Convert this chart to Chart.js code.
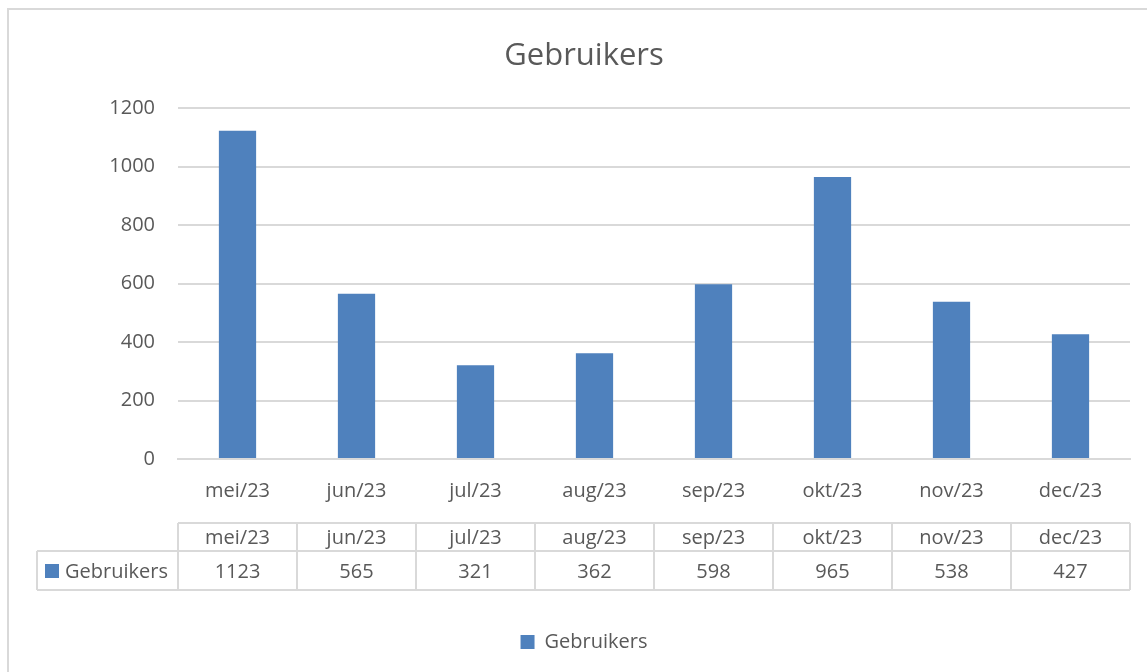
<!DOCTYPE html>
<html>
<head>
<meta charset="utf-8">
<script src="https://cdn.jsdelivr.net/npm/chart.js@4.4.1/dist/chart.umd.min.js"></script>
<style>
  html, body { margin: 0; padding: 0; background: #fff; overflow: hidden; width: 1147px; height: 672px; }
  #frame { position: absolute; left: 7px; top: 8px; width: 1170px; height: 700px; border: 2px solid #d9d9d9; box-sizing: border-box; }
  #wrap { position: absolute; left: 0; top: 0; width: 1168px; height: 672px; }
</style>
</head>
<body>
<div id="frame"></div>
<div id="wrap"><canvas id="c" width="1168" height="672"></canvas></div>
<script>
const categories = ['mei/23', 'jun/23', 'jul/23', 'aug/23', 'sep/23', 'okt/23', 'nov/23', 'dec/23'];
const users = [1123, 565, 321, 362, 598, 965, 538, 427];
const seriesName = 'Gebruikers';
const chartTitle = 'Gebruikers';
const yMin = 0, yMax = 1200, yStep = 200;

const FONT = "'Open Sans', sans-serif";
const TXT = '#595959';
const LINE = '#d9d9d9';
const BLUE = '#4f81bd';

const dataTable = {
  id: 'dataTable',
  afterDraw(chart) {
    const ctx = chart.ctx;
    const xs = chart.scales.x;
    const n = categories.length;
    const left = xs.left, right = xs.right;
    const cw = (right - left) / n;
    const top = 523, mid = 551, bot = 590, labL = 37;
    ctx.save();
    ctx.strokeStyle = LINE;
    ctx.lineWidth = 2;
    ctx.beginPath();
    ctx.moveTo(left, top); ctx.lineTo(right, top);
    ctx.moveTo(labL, mid); ctx.lineTo(right, mid);
    ctx.moveTo(labL, bot); ctx.lineTo(right, bot);
    ctx.moveTo(labL, mid); ctx.lineTo(labL, bot);
    for (let i = 0; i <= n; i++) {
      const x = left + i * cw;
      ctx.moveTo(x, top); ctx.lineTo(x, bot);
    }
    ctx.stroke();
    ctx.fillStyle = TXT;
    ctx.font = '20px ' + FONT;
    ctx.textAlign = 'center';
    ctx.textBaseline = 'middle';
    for (let i = 0; i < n; i++) {
      const cx = xs.getPixelForTick(i);
      ctx.fillText(categories[i], cx, 538);
      ctx.fillText(String(users[i]), cx, 572);
    }
    ctx.fillStyle = BLUE;
    ctx.fillRect(45, 564, 14, 14);
    ctx.fillStyle = TXT;
    ctx.textAlign = 'left';
    ctx.fillText(seriesName, 65, 572);
    ctx.restore();
  }
};

new Chart(document.getElementById('c'), {
  type: 'bar',
  data: {
    labels: categories,
    datasets: [{
      label: seriesName,
      data: users,
      backgroundColor: BLUE,
      borderWidth: 0,
      categoryPercentage: 0.313,
      barPercentage: 1
    }]
  },
  options: {
    responsive: false,
    animation: false,
    devicePixelRatio: 1,
    layout: { padding: { left: 38, right: 38, top: 0, bottom: 10 } },
    plugins: {
      title: {
        display: true,
        text: chartTitle,
        color: TXT,
        font: { family: FONT, size: 31, weight: 'normal' },
        padding: { top: 38, bottom: 33 }
      },
      legend: {
        display: true,
        position: 'bottom',
        labels: {
          color: TXT,
          font: { family: FONT, size: 20 },
          boxWidth: 14,
          boxHeight: 14,
          padding: 10
        }
      },
      tooltip: { enabled: false }
    },
    scales: {
      x: {
        grid: { display: false, drawTicks: false },
        border: { display: true, color: LINE, width: 2 },
        ticks: { color: TXT, font: { family: FONT, size: 20 }, padding: 20, maxRotation: 0 },
        afterFit(s) { s.height = 163; }
      },
      y: {
        min: yMin, max: yMax,
        grid: { color: LINE, lineWidth: 2, drawTicks: false },
        border: { display: false },
        ticks: { stepSize: yStep, color: TXT, font: { family: FONT, size: 20 }, padding: 23,
                 callback: (v) => String(v) },
        afterFit(s) { s.width = 140; }
      }
    }
  },
  plugins: [dataTable]
});
</script>
</body>
</html>
